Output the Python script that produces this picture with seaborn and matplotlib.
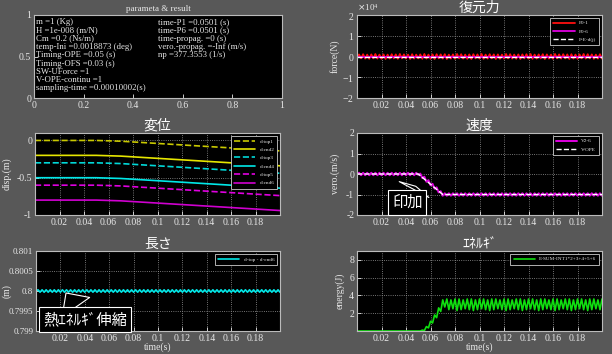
import numpy as np
import matplotlib.pyplot as plt
from matplotlib.ticker import ScalarFormatter
import seaborn as sns

# ---- data ----
params_left = ["m =1 (Kg)", "H =1e-008 (m/N)", "Cm =0.2 (Ns/m)",
               "temp-Ini =0.0018873 (deg)", "Timing-OPE =0.05 (s)",
               "Timing-OFS =0.03 (s)", "SW-UForce =1", "V-OPE-continu =1",
               "sampling-time =0.00010002(s)"]
params_right = ["time-P1 =0.0501 (s)", "time-P6 =0.0501 (s)",
                "time-propag. =0 (s)", "vero.-propag. =-Inf (m/s)",
                "np =377.3553 (1/s)"]

t_dense = np.linspace(0, 0.2, 121)   # sample times of the oscillating signals
t_flat = [0, 0.2]
t_disp = [0, 0.05, 0.07, 0.2]

force_f01 = [0, 1000, -900, 1100, -1000, 900, -1100, 1000, -900, 1200,
             -1000, 900, -1100, 1000, -1200, 900, -1000, 1100, -900, 1000,
             -1100, 1200, -900, 1000, -1000, 900, -1200, 1100, -1000, 900,
             -900, 1000, -1100, 1200, -1000, 900, -1100, 1000, -1200, 1100,
             -900, 1000, -1000, 1100, -1200, 900, -1000, 1000, -1100, 1200,
             -900, 1100, -1000, 900, -1100, 1000, -1200, 1100, -900, 1000,
             -1000, 1200, -1100, 900, -1000, 1100, -900, 1000, -1200, 1000,
             -1100, 900, -1000, 1200, -900, 1100, -1000, 900, -1100, 1000,
             -1200, 1000, -900, 1100, -1000, 1200, -1100, 900, -1000, 1000,
             -900, 1100, -1200, 1000, -1000, 900, -1100, 1200, -900, 1000,
             -1000, 1100, -900, 1000, -1200, 1100, -1000, 900, -1100, 1000,
             -900, 1200, -1000, 1100, -900, 1000, -1100, 900, -1000, 1100,
             -1000]
force_f06 = [0, 0]
force_fed = [0, 0]

disp = {
    "d-top1": [0, 0, -0.01, -0.14],
    "d-end2": [-0.2, -0.2, -0.21, -0.34],
    "d-top3": [-0.3, -0.3, -0.31, -0.44],
    "d-end4": [-0.5, -0.5, -0.51, -0.64],
    "d-top5": [-0.6, -0.6, -0.61, -0.74],
    "d-end6": [-0.8, -0.8, -0.81, -0.94],
}

vel_v26 = [0, 0.06, -0.06, 0.06, -0.06, 0.06, -0.06, 0.06, -0.06, 0.06,
           -0.06, 0.06, -0.06, 0.06, -0.06, 0.06, -0.06, 0.06, -0.06, 0.06,
           -0.06, 0.06, -0.06, 0.06, -0.06, 0.06, -0.06, 0.06, -0.06, 0.06,
           -0.04, 0.02, -0.2, -0.13, -0.38, -0.3, -0.55, -0.48, -0.72, -0.65,
           -0.9, -0.84, -1.06, -0.94, -1.06, -0.94, -1.06, -0.94, -1.06, -0.94,
           -1.06, -0.94, -1.06, -0.94, -1.06, -0.94, -1.06, -0.94, -1.06, -0.94,
           -1.06, -0.94, -1.06, -0.94, -1.06, -0.94, -1.06, -0.94, -1.06, -0.94,
           -1.06, -0.94, -1.06, -0.94, -1.06, -0.94, -1.06, -0.94, -1.06, -0.94,
           -1.06, -0.94, -1.06, -0.94, -1.06, -0.94, -1.06, -0.94, -1.06, -0.94,
           -1.06, -0.94, -1.06, -0.94, -1.06, -0.94, -1.06, -0.94, -1.06, -0.94,
           -1.06, -0.94, -1.06, -0.94, -1.06, -0.94, -1.06, -0.94, -1.06, -0.94,
           -1.06, -0.94, -1.06, -0.94, -1.06, -0.94, -1.06, -0.94, -1.06, -0.94,
           -1.06]
vel_ope = [0, 0, -1, -1]

length_hi, length_lo = 0.80003, 0.79997
length = [0.8] + [length_hi, length_lo] * 60

energy = [0] * 32 + [0.1, 0.05, 0.5, 0.35, 1.1, 0.9, 1.8, 1.5, 2.6, 2.2,
                     3.5, 2.7, 3.6, 2.4, 3.5, 2.5, 3.6, 2.3, 3.6, 2.4,
                     3.5, 2.5, 3.6, 2.4, 3.6, 2.3, 3.5, 2.4, 3.6, 2.5,
                     3.6, 2.4, 3.5, 2.3, 3.6, 2.4, 3.6, 2.5, 3.5, 2.4,
                     3.6, 2.3, 3.6, 2.4, 3.5, 2.5, 3.6, 2.4, 3.6, 2.3,
                     3.5, 2.4, 3.6, 2.5, 3.6, 2.4, 3.5, 2.3, 3.6, 2.4,
                     3.6, 2.5, 3.5, 2.4, 3.6, 2.3, 3.6, 2.4, 3.5, 2.5,
                     3.6, 2.4, 3.6, 2.3, 3.5, 2.4, 3.6, 2.5, 3.6, 2.4,
                     3.5, 2.3, 3.6, 2.4, 3.6, 2.5, 3.5, 2.4, 3.6]

time_ticks = [0.02, 0.04, 0.06, 0.08, 0.1, 0.12, 0.14, 0.16, 0.18]

# ---- style ----
sns.set_theme(style="ticks")
plt.rcParams['font.family'] = ['Liberation Serif', 'Noto Sans CJK JP', 'DejaVu Sans']
plt.rcParams['axes.unicode_minus'] = False
JP = ['Noto Sans CJK JP', 'DejaVu Sans']
BG = '#585858'
FG = '#e8e8e8'

fig = plt.figure(figsize=(6.12, 3.54), dpi=100, facecolor=BG)
W, H = 612, 354


def make_ax(x0, y0, x1, y1):
    ax = fig.add_axes([x0 / W, 1 - y1 / H, (x1 - x0) / W, (y1 - y0) / H])
    ax.set_facecolor('black')
    for s in ax.spines.values():
        s.set_color('#bbbbbb')
        s.set_linewidth(0.8)
    ax.tick_params(colors=FG, labelcolor=FG, labelsize=7, direction='in',
                   length=3, width=0.6, pad=2)
    return ax


def time_axis(ax, title, ylabel, label_x, xlabel=None):
    ax.set_xlim(0, 0.2)
    ax.set_xticks(time_ticks)
    ax.set_xticklabels([f"{v:g}" for v in time_ticks])
    ax.grid(True, linestyle=':', color='#9a9a9a', linewidth=0.6)
    ax.set_title(title, color='white', family=JP, fontsize=10, pad=0.5)
    ax.set_ylabel(ylabel, color=FG, fontsize=7)
    ax.yaxis.set_label_coords(label_x, 0.5)
    if xlabel:
        ax.set_xlabel(xlabel, color=FG, fontsize=7, labelpad=0)
    else:
        ax.set_xlabel('')


def style_legend(ax, **kw):
    leg = ax.legend(loc='upper right', fontsize=3.8, frameon=True, fancybox=False,
                    handlelength=4, borderpad=0.6, labelspacing=0.7, **kw)
    leg.get_frame().set_facecolor('black')
    leg.get_frame().set_edgecolor('#cccccc')
    leg.get_frame().set_linewidth(0.6)
    leg.get_frame().set_alpha(1)
    for txt in leg.get_texts():
        txt.set_color(FG)


callout_box = dict(boxstyle='square,pad=0.25', fc='black', ec='white', lw=0.8)
callout_arrow = dict(arrowstyle='wedge,tail_width=2.2,shrink_factor=0.5',
                     fc='black', ec='white', lw=0.8, shrinkA=0, shrinkB=0)

# parameters panel
ax0 = make_ax(34, 15, 282, 98)
ax0.set_xlim(0, 1)
ax0.set_ylim(0, 1)
ax0.set_xticks([0, 0.2, 0.4, 0.6, 0.8, 1])
ax0.set_xticklabels(['0', '0.2', '0.4', '0.6', '0.8', '1'])
ax0.set_yticks([0, 0.5, 1])
ax0.set_yticklabels(['0', '0.5', '1'])
ax0.set_title('parameta & result', color=FG, fontsize=6.5, pad=3)
for i, s in enumerate(params_left):
    ax0.text(0.01, 0.915 - i * 0.1, s, color=FG, fontsize=6.3, va='center')
for i, s in enumerate(params_right):
    ax0.text(0.5, 0.915 - i * 0.1, s, color=FG, fontsize=6.3, va='center')

# restoring force
ax1 = make_ax(357, 15, 602, 98)
sns.lineplot(x=t_dense, y=force_f01, ax=ax1, color='#ff1010', lw=1.3, label='F0-1')
sns.lineplot(x=t_flat, y=force_f06, ax=ax1, color='#e000e0', lw=1.3, label='F0-6')
sns.lineplot(x=t_flat, y=force_fed, ax=ax1, color='white', lw=1.0,
             linestyle='--', label='F-E-d(j)')
ax1.set_ylim(-2e4, 2e4)
ax1.set_yticks([-2e4, -1e4, 0, 1e4, 2e4])
fmt = ScalarFormatter(useMathText=True)
fmt.set_powerlimits((0, 0))
ax1.yaxis.set_major_formatter(fmt)
ax1.yaxis.get_offset_text().set_color(FG)
ax1.yaxis.get_offset_text().set_fontsize(6.5)
time_axis(ax1, '復元力', 'force(N)', -0.07)
style_legend(ax1)

# displacement
ax2 = make_ax(35, 133, 280, 215)
disp_style = [('#c8c800', '--'), ('#e6e600', '-'), ('#00d8d8', '--'),
              ('#00e8e8', '-'), ('#e000e0', '--'), ('#d000d0', '-')]
for (name, vals), (c, ls) in zip(disp.items(), disp_style):
    sns.lineplot(x=t_disp, y=vals, ax=ax2, color=c, linestyle=ls, lw=1.2, label=name)
ax2.set_ylim(-1, 0.1)
ax2.set_yticks([-1, -0.5, 0])
ax2.set_yticklabels(['-1', '-0.5', '0'])
time_axis(ax2, '変位', 'disp.(m)', -0.095)
style_legend(ax2)

# velocity
ax3 = make_ax(357, 133, 602, 215)
sns.lineplot(x=t_dense, y=vel_v26, ax=ax3, color='#e000e0', lw=1.4, label='V2-6')
sns.lineplot(x=t_disp, y=vel_ope, ax=ax3, color='white', lw=1.0,
             linestyle='--', label='V-OPE')
ax3.set_ylim(-2, 2)
ax3.set_yticks([-2, -1, 0, 1, 2])
ax3.set_yticklabels(['-2', '-1', '0', '1', '2'])
time_axis(ax3, '速度', 'vero.(m/s)', -0.07)
style_legend(ax3)
ax3.annotate('印加', xy=(0.048, -0.6), xytext=(0.041, -1.38), ha='center',
             va='center', fontsize=11, color='white', family=JP,
             bbox=callout_box, arrowprops=callout_arrow)

# length
ax4 = make_ax(36, 251, 280, 331)
sns.lineplot(x=t_dense, y=length, ax=ax4, color='#00e8e8', lw=1.2,
             label='d-top - d-end6')
ax4.set_ylim(0.799, 0.801)
ax4.set_yticks([0.799, 0.7995, 0.8, 0.8005, 0.801])
ax4.set_yticklabels(['0.799', '0.7995', '0.8', '0.8005', '0.801'])
ax4.tick_params(axis='y', labelsize=6.5)
time_axis(ax4, '長さ', '(m)', -0.1, 'time(s)')
style_legend(ax4)
ax4.annotate('熱ｴﾈﾙｷﾞ伸縮', xy=(0.0246, 0.79995), xytext=(0.04, 0.79928),
             ha='center', va='center', fontsize=11, color='white', family=JP,
             bbox=callout_box, arrowprops=callout_arrow)

# energy
ax5 = make_ax(357, 251, 602, 331)
sns.lineplot(x=t_dense, y=energy, ax=ax5, color='#10e010', lw=1.2,
             label='E-SUM-INT1*2+3+4+5+6')
ax5.set_ylim(0, 9)
ax5.set_yticks([2, 4, 6, 8])
ax5.set_yticklabels(['2', '4', '6', '8'])
time_axis(ax5, 'ｴﾈﾙｷﾞ', 'energy(J)', -0.05, 'time(s)')
style_legend(ax5)

fig.savefig('out.png', dpi=100, facecolor=BG)
